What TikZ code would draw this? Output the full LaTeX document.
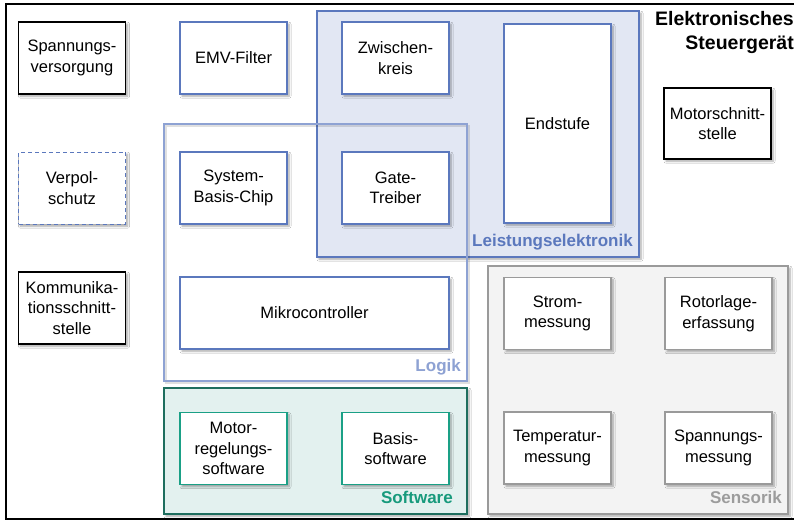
\documentclass[tikz,border=0pt]{standalone}
\usepackage{fontspec}
\setmainfont{Liberation Sans}
\usetikzlibrary{shadows.blur}

\definecolor{blueline}{HTML}{5B78BD}
\definecolor{bluefill}{HTML}{E2E7F3}
\definecolor{logikline}{HTML}{8EA2D3}
\definecolor{swline}{HTML}{1E6E5E}
\definecolor{swbox}{HTML}{1AA086}
\definecolor{swfill}{HTML}{E3F1EF}
\definecolor{swlabel}{HTML}{179A7C}
\definecolor{sensline}{HTML}{9A9A9A}
\definecolor{sensfill}{HTML}{F3F3F3}
\definecolor{senslabel}{HTML}{9C9C9C}

\tikzset{
  soft/.style={blur shadow={shadow xshift=2pt, shadow yshift=-2.2pt,
      shadow blur steps=6, shadow blur radius=2pt, shadow opacity=35}},
  box/.style={rectangle, draw, line width=1.2pt, fill=white, soft,
      minimum width=107pt, minimum height=72pt, inner sep=0pt,
      align=center, font=\fontsize{16.5}{20.5}\selectfont},
  blackbox/.style={box, draw=black},
  bluebox/.style={box, draw=blueline},
  swnode/.style={box, draw=swbox},
  sensnode/.style={box, draw=sensline},
  region/.style={rectangle, line width=2pt, inner sep=0pt, anchor=north west},
  regionlabel/.style={anchor=base east, inner sep=0pt,
      font=\fontsize{17}{20}\selectfont\bfseries},
}

\begin{document}
\begin{tikzpicture}[x=1pt, y=-1pt]
\useasboundingbox (0,0) rectangle (794,520);
\clip (0,0) rectangle (794,520);

% outer frame of the control unit
\node[region, draw=black, fill=white, line width=1.5pt, minimum width=795pt,
      minimum height=515pt] (ecu) at (5,3) {};
\node[anchor=north east, inner sep=0pt, align=right,
      font=\fontsize{19.5}{24}\selectfont\bfseries] (title) at (794,11)
      {Elektronisches\\Steuergerät};

% power electronics region
\node[region, soft, draw=blueline, fill=bluefill, minimum width=322pt,
      minimum height=246pt] (leist) at (316,10) {};
% faint shadow line of the logic region, then the region itself (no fill)
\draw[line width=2pt, black, opacity=0.12]
      (165.5,125.5) rectangle (468.5,382.5);
\node[region, draw=logikline, minimum width=303pt, minimum height=257pt]
      (logik) at (163,123) {};
% software region
\node[region, soft, draw=swline, fill=swfill, minimum width=303pt,
      minimum height=126pt] (sw) at (163,387) {};
% sensor region
\node[region, soft, draw=sensline, fill=sensfill, minimum width=300pt,
      minimum height=248pt] (sens) at (487,265) {};

% region labels
\node[regionlabel, text=blueline] (leistlbl) at (633,246) {Leistungselektronik};
\node[regionlabel, text=logikline] (logiklbl) at (461,371) {Logik};
\node[regionlabel, text=swlabel] (swlbl) at (453,503) {Software};
\node[regionlabel, text=senslabel] (senslbl) at (782,503) {Sensorik};

% left column
\node[blackbox] (spv) at (72,58) {Spannungs-\\versorgung};
\node[bluebox, dashed, dash pattern=on 4pt off 3pt, line width=1pt] (verpol) at (72,188) {Verpol-\\schutz};
\node[blackbox] (komm) at (72,308) {Kommunika-\\tionsschnitt-\\stelle};

% second column
\node[bluebox] (emv) at (233.5,58) {EMV-Filter};
\node[bluebox] (sbc) at (233.5,188) {System-\\Basis-Chip};
\node[bluebox, minimum width=269pt] (mc) at (314.5,313) {Mikrocontroller};

% power electronics blocks
\node[bluebox] (zwk) at (395.5,58) {Zwischen-\\kreis};
\node[bluebox] (gate) at (395.5,188) {Gate-\\Treiber};
\node[bluebox, minimum height=199pt] (endstufe) at (557.5,123.5) {Endstufe};

% motor interface
\node[blackbox, minimum height=71pt] (motor) at (717.5,123.5) {Motorschnitt-\\stelle};

% software blocks
\node[swnode] (mrs) at (233.5,448.5) {Motor-\\regelungs-\\software};
\node[swnode] (bsw) at (395.5,448.5) {Basis-\\software};

% sensor blocks
\node[sensnode] (strom) at (557.5,313.5) {Strom-\\messung};
\node[sensnode] (rotor) at (718.5,313.5) {Rotorlage-\\erfassung};
\node[sensnode] (temp) at (557.5,448) {Temperatur-\\messung};
\node[sensnode] (spmess) at (718.5,448) {Spannungs-\\messung};
\end{tikzpicture}
\end{document}
